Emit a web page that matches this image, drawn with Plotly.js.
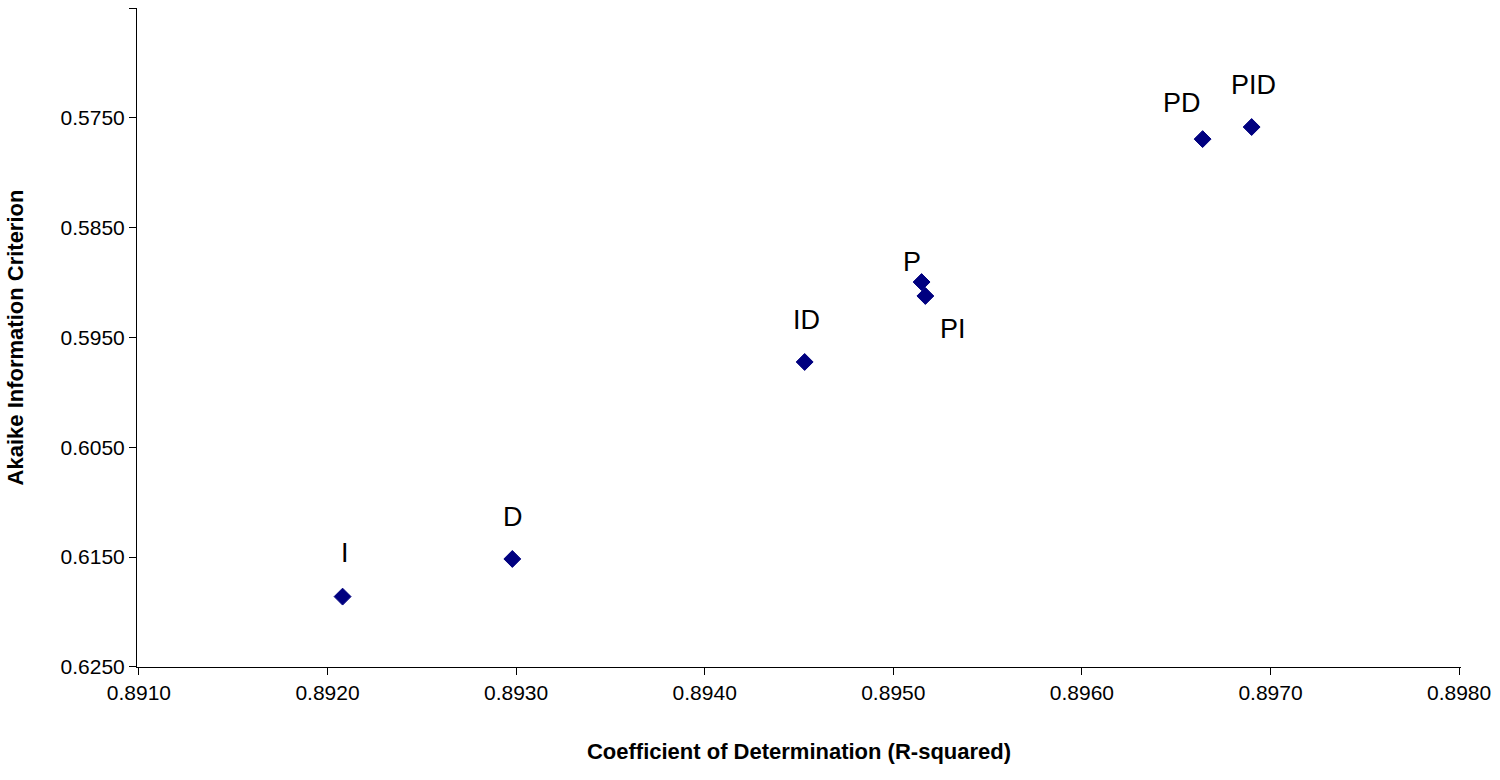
<!DOCTYPE html>
<html>
<head>
<meta charset="utf-8">
<script src="https://cdn.plot.ly/plotly-3.0.1.min.js"></script>
<style>html,body{margin:0;padding:0;background:#fff}</style>
</head>
<body>
<div id="chart" style="width:1500px;height:780px"></div>
<script>
// model names and their fit statistics
var models = ["I", "D", "ID", "P", "PI", "PD", "PID"];
var rSquared = [0.89208, 0.89298, 0.89453, 0.89515, 0.89517, 0.89664, 0.89690];
var aic = [0.6186, 0.61517, 0.59723, 0.58995, 0.59122, 0.57693, 0.57583];
// label nudges in pixels
var labelDx = [2, 1, 2, -10, 28, -21, 2];
var labelDy = [44, 42, 42, 20, -33, 36, 42];

var trace = {
  x: rSquared,
  y: aic,
  type: "scatter",
  mode: "markers",
  marker: {symbol: "diamond", size: 13, color: "#000080", line: {color: "#000080", width: 1}},
  hoverinfo: "skip"
};

var notes = [];
for (var i = 0; i < models.length; i++) {
  notes.push({
    x: rSquared[i], y: aic[i], text: models[i], showarrow: false,
    xshift: labelDx[i], yshift: labelDy[i],
    font: {family: "Liberation Sans, Arial", size: 27, color: "#000"}
  });
}

var layout = {
  width: 1500, height: 780,
  margin: {l: 137, r: 39, t: 8, b: 113},
  paper_bgcolor: "#fff", plot_bgcolor: "#fff",
  showlegend: false,
  font: {family: "Liberation Sans, Arial", color: "#000"},
  xaxis: {
    range: [0.89099, 0.89801], tickvals: [0.891, 0.892, 0.893, 0.894, 0.895, 0.896, 0.897, 0.898],
    tickformat: ".4f",
    showgrid: false, zeroline: false, showline: true, linecolor: "#000", linewidth: 1,
    ticks: "outside", ticklen: 7, tickcolor: "#000",
    tickfont: {size: 21},
    title: {text: "<b>Coefficient of Determination (R-squared)</b>", font: {size: 22}, standoff: 40}
  },
  yaxis: {
    range: [0.62501, 0.56499], tickvals: [0.565, 0.575, 0.585, 0.595, 0.605, 0.615, 0.625],
    tickformat: ".4f",
    showgrid: false, zeroline: false, showline: true, linecolor: "#000", linewidth: 1,
    ticks: "outside", ticklen: 7, tickcolor: "#000",
    tickfont: {size: 21},
    title: {text: "<b>Akaike Information Criterion</b>", font: {size: 22}, standoff: 30}
  },
  annotations: notes
};

Plotly.newPlot("chart", [trace], layout, {displayModeBar: false, staticPlot: true});
</script>
</body>
</html>
